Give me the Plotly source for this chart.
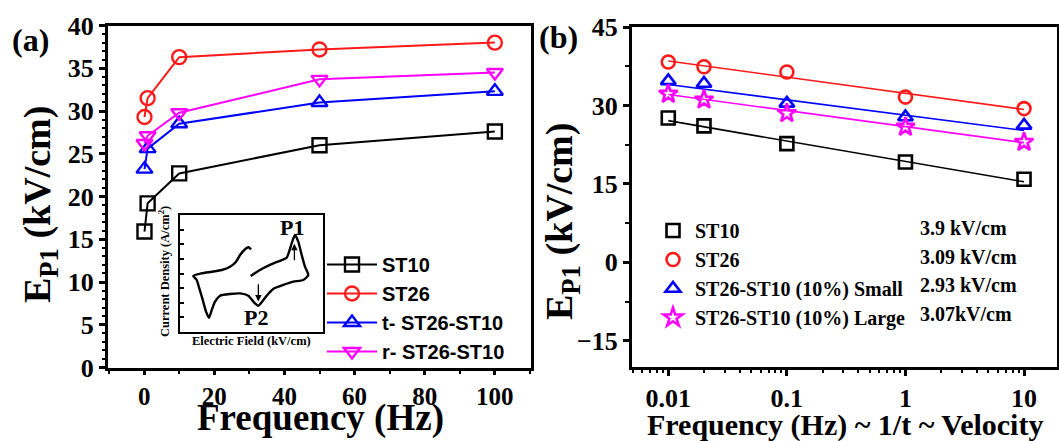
import math
import plotly.graph_objects as go

# ---------------- data ----------------
# (a) E_P1 versus frequency
freq_a = [0.1, 1, 10, 50, 100]
ep1_st10_a = [15.9, 19.2, 22.7, 26.0, 27.6]
ep1_st26_a = [29.3, 31.5, 36.3, 37.2, 38.0]
ep1_t_a = [23.2, 25.6, 28.5, 31.0, 32.3]
ep1_r_a = [26.2, 27.1, 29.8, 33.7, 34.5]
names_a = ["ST10", "ST26", "t- ST26-ST10", "r- ST26-ST10"]

# (b) E_P1 versus frequency on a log scale with linear fits
freq_b = [0.01, 0.02, 0.1, 1, 10]
ep1_st10_b = [27.6, 26.1, 22.7, 19.2, 15.9]
ep1_st26_b = [38.3, 37.4, 36.4, 31.6, 29.4]
ep1_small_b = [34.7, 34.2, 30.4, 27.8, 26.2]
ep1_large_b = [32.2, 31.1, 28.5, 25.9, 23.0]
names_b = ["ST10", "ST26", "ST26-ST10 (10%) Small", "ST26-ST10 (10%) Large"]
slope_labels = ["3.9 kV/cm", "3.09 kV/cm", "2.93 kV/cm", "3.07kV/cm"]
fit_start = [27.1, 38.5, 34.0, 32.1]      # fitted E_P1 at 0.01 Hz
fit_span = [0.01, 10]

# inset: schematic current density versus electric field loop
inset_field = [49.4, 55.9, 62.9, 71.1, 74.6, 78.1, 80.4, 82.7, 85.1, 87.4, 89.7,
               86.2, 79.2, 72.2, 65.2, 60.6, 57.1, 54.8, 51.7, 47.8, 42.0, 35.0,
               28.0, 24.5, 22.2, 20.3, 18.2, 15.9, 13.5, 11.7, 9.3, 15.2, 22.2,
               29.2, 35.0, 39.2, 42.0, 45.5, 47.8, 49.7]
inset_current = [47.9, 53.0, 57.3, 61.5, 63.5, 75.8, 82.9, 77.2, 65.8, 55.8, 48.7,
                 44.4, 43.0, 40.2, 36.8, 31.0, 25.4, 22.5, 25.4, 31.0, 33.0, 32.5,
                 31.0, 25.9, 18.8, 12.2, 17.4, 27.4, 37.3, 44.4, 47.9, 50.2, 51.5,
                 53.0, 55.8, 60.1, 65.8, 70.7, 72.4, 70.7]
# peak markers: (field, arrow tail current, arrow head current, label current)
peak_p1 = (80.0, 60.0, 75.5, 89.0)
peak_p2 = (54.8, 42.0, 26.0, 12.5)

# ---------------- styling ----------------
SERIF = "Liberation Serif, Times New Roman, serif"
SANS = "Liberation Sans, Arial, sans-serif"
W, H = 1059, 441
colors = ["#000000", "#ff1a1a", "#0000ff", "#ff00ff"]
symbols_a = ["square-open", "circle-open", "triangle-up-open", "triangle-down-open"]
symbols_b = ["square-open", "circle-open", "triangle-up-open", "star-open"]


def px_x(p):
    return p / W


def px_y(p):
    return 1 - p / H


fig = go.Figure()

# panel (a)
for name, ys, c, s in zip(names_a, [ep1_st10_a, ep1_st26_a, ep1_t_a, ep1_r_a], colors, symbols_a):
    fig.add_trace(go.Scatter(
        x=freq_a, y=ys, name=name, mode="lines+markers",
        line=dict(color=c, width=2),
        marker=dict(symbol=s, size=14, color=c, line=dict(color=c, width=2.4)),
        xaxis="x", yaxis="y", legend="legend",
    ))

# panel (b): fitted lines from the stated slopes, then the measured points
for slope_txt, b0, c in zip(slope_labels, fit_start, colors):
    slope = float(slope_txt.replace("kV/cm", "").strip())
    fy = [b0 - slope * (math.log10(f) - math.log10(fit_span[0])) for f in fit_span]
    fig.add_trace(go.Scatter(
        x=fit_span, y=fy, mode="lines", line=dict(color=c, width=1.6),
        showlegend=False, xaxis="x2", yaxis="y2", hoverinfo="skip",
    ))
for name, ys, c, s in zip(names_b, [ep1_st10_b, ep1_st26_b, ep1_small_b, ep1_large_b], colors, symbols_b):
    fig.add_trace(go.Scatter(
        x=freq_b, y=ys, name=name, mode="markers",
        marker=dict(symbol=s, size=13 if s != "star-open" else 14, color=c,
                    line=dict(color=c, width=2.6)),
        xaxis="x2", yaxis="y2", legend="legend2",
    ))

# inset loop
fig.add_trace(go.Scatter(
    x=inset_field, y=inset_current, mode="lines",
    line=dict(color="black", width=2.4, shape="spline", smoothing=0.6),
    showlegend=False, xaxis="x3", yaxis="y3", hoverinfo="skip",
))

tickfont = dict(family=SERIF, size=26, color="black", weight="bold")
frame = dict(showline=True, linecolor="black", linewidth=3, mirror=True,
             showgrid=False, zeroline=False, ticks="outside", tickcolor="black",
             tickwidth=2.5, ticklen=6, tickfont=tickfont, automargin=False)
frame_a_x = dict(frame, ticklen=4, tickfont=dict(tickfont, size=25))

fig.update_layout(
    template="none",
    width=W, height=H,
    margin=dict(l=0, r=0, t=0, b=0, pad=0, autoexpand=False),
    paper_bgcolor="white", plot_bgcolor="white",
    xaxis=dict(domain=[px_x(108), px_x(531)], range=[-10.3, 110.3], anchor="y",
               tick0=0, dtick=20,
               minor=dict(dtick=10, ticks="outside", ticklen=3, tickwidth=2, tickcolor="black"),
               **frame_a_x),
    yaxis=dict(domain=[px_y(367.5), px_y(25.5)], range=[0, 40], anchor="x",
               tick0=0, dtick=5,
               minor=dict(dtick=1, ticks="outside", ticklen=3, tickwidth=1.5, tickcolor="black"),
               **frame),
    xaxis2=dict(domain=[px_x(632), px_x(1057)], type="log", range=[-2.306, 1.278], anchor="y2",
                tickvals=[0.01, 0.1, 1, 10], ticktext=["0.01", "0.1", "1", "10"],
                minor=dict(tickvals=[m * 10 ** d for d in range(-3, 2) for m in range(2, 10)],
                           ticks="outside", ticklen=3, tickwidth=1.5, tickcolor="black"),
                **frame),
    yaxis2=dict(domain=[px_y(367), px_y(27)], range=[-20, 45], anchor="x2",
                tick0=-15, dtick=15,
                minor=dict(dtick=7.5, ticks="outside", ticklen=4, tickwidth=2, tickcolor="black"),
                **frame),
    xaxis3=dict(domain=[px_x(180), px_x(323)], range=[0, 100], anchor="y3",
                showline=True, linecolor="black", linewidth=2, mirror=True, automargin=False,
                showgrid=False, zeroline=False, showticklabels=False, ticks=""),
    yaxis3=dict(domain=[px_y(332), px_y(215)], range=[0, 100], anchor="x3",
                showline=True, linecolor="black", linewidth=2, mirror=True, automargin=False,
                showgrid=False, zeroline=False, showticklabels=False,
                ticks="inside", ticklen=4, tickwidth=1.5, tickcolor="black", dtick=12.5),
    legend=dict(x=px_x(322), y=px_y(245), xanchor="left", yanchor="top",
                bgcolor="rgba(0,0,0,0)", borderwidth=0, itemwidth=50,
                font=dict(family=SANS, size=20, color="black", weight="bold"),
                tracegroupgap=0),
    legend2=dict(x=px_x(651), y=px_y(211), xanchor="left", yanchor="top",
                 bgcolor="rgba(0,0,0,0)", borderwidth=0, itemwidth=34,
                 font=dict(family=SERIF, size=20, color="black", weight="bold"),
                 tracegroupgap=0),
    showlegend=True,
)

ann = []
# axis titles
ann.append(dict(text="E<sub>P1</sub> (kV/cm)", x=px_x(40), y=px_y(205), textangle=-90,
                font=dict(family=SERIF, size=38, color="black", weight="bold")))
ann.append(dict(text="Frequency (Hz)", x=px_x(320), y=px_y(418),
                font=dict(family=SERIF, size=37, color="black", weight="bold")))
ann.append(dict(text="E<sub>P1</sub> (kV/cm)", x=px_x(562), y=px_y(222), textangle=-90,
                font=dict(family=SERIF, size=38, color="black", weight="bold")))
ann.append(dict(text="Frequency (Hz) ~ 1/t ~ Velocity", x=px_x(845), y=px_y(425),
                font=dict(family=SERIF, size=30, color="black", weight="bold")))
# panel letters
ann.append(dict(text="(a)", x=px_x(30), y=px_y(40),
                font=dict(family=SERIF, size=32, color="black", weight="bold")))
ann.append(dict(text="(b)", x=px_x(558), y=px_y(37),
                font=dict(family=SERIF, size=32, color="black", weight="bold")))
# slope labels
for i, t in enumerate(slope_labels):
    ann.append(dict(text=t, x=px_x(918), y=px_y(228 + 28.5 * i), xanchor="left",
                    font=dict(family=SERIF, size=20, color="black", weight="bold")))
# inset titles
ann.append(dict(text="Current Density (A/cm<sup>2</sup>)", x=px_x(164), y=px_y(272), textangle=-90,
                font=dict(family=SERIF, size=12.5, color="black", weight="bold")))
ann.append(dict(text="Electric Field (kV/cm)", x=px_x(251), y=px_y(341),
                font=dict(family=SERIF, size=12.5, color="black", weight="bold")))
for a in ann:
    a.update(xref="paper", yref="paper", showarrow=False, xanchor=a.get("xanchor", "center"),
             yanchor="middle")

# inset peak labels and arrows
for label, (fx, tail, head, ly) in zip(["P1", "P2"], [peak_p1, peak_p2]):
    ann.append(dict(text=label, x=fx - 2, y=ly, xref="x3", yref="y3", showarrow=False,
                    font=dict(family=SERIF, size=22, color="black", weight="bold")))
    ann.append(dict(text="", x=fx, y=head, ax=fx, ay=tail, xref="x3", yref="y3",
                    axref="x3", ayref="y3", showarrow=True, arrowhead=2, arrowsize=1,
                    arrowwidth=1.3, arrowcolor="black"))

fig.update_layout(annotations=ann)
fig.write_html("out.html")
